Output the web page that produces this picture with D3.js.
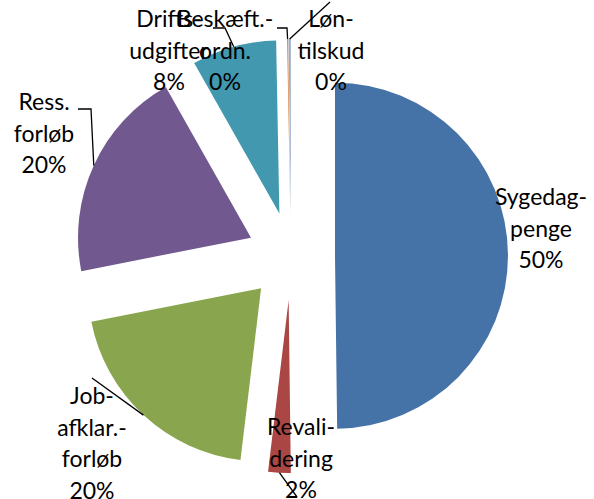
<!DOCTYPE html>
<html>
<head>
<meta charset="utf-8">
<script src="https://cdn.jsdelivr.net/npm/d3@7"></script>
<style>
  html, body { margin: 0; padding: 0; background: #fff; }
  svg { display: block; }
  text { font-family: Lato, "Open Sans", sans-serif; font-size: 23px; fill: #000; }
</style>
</head>
<body>
<div id="chart"></div>
<script>
// data
const categories = ['Sygedagpenge', 'Revalidering', 'Jobafklaringsforløb', 'Ressourceforløb',
  'Driftsudgifter', 'Beskæftigelsesordninger', 'Løntilskud'];
const labelLines = [['Sygedag-', 'penge'], ['Revali-', 'dering'], ['Job-', 'afklar.-', 'forløb'],
  ['Ress.', 'forløb'], ['Drifts-', 'udgifter'], ['Beskæft.-', 'ordn.'], ['Løn-', 'tilskud']];
const values = [49.8, 2.1, 20.0, 19.9, 7.9, 0.1, 0.2];
const colors = ['#4572A7', '#AA4643', '#89A54E', '#71588F', '#4198AF', '#DB843D', '#93A9CF'];

const width = 594, height = 499;
const cx = 291, cy = 256, radius = 173, explode = 44;
const lineH = 31.5;

// label placement (x centre, first baseline) and leader points next to the label
const labelLayout = [
  { x: 541, y: 205, leader: null },
  { x: 301, y: 435, leader: [[297, 497]] },
  { x: 92, y: 404, leader: [[92, 378]] },
  { x: 44, y: 110, leader: [[78, 109], [91, 109]] },
  { x: 169, y: 27, leader: [[213, 28], [225, 28]] },
  { x: 225, y: 27, leader: [[277, 28], [287, 28]] },
  { x: 331, y: 27, leader: [[330, 2]] }
];

const total = d3.sum(values);
const pct = d3.format('.0%');

const svg = d3.select('#chart')
  .append('svg')
  .attr('width', width)
  .attr('height', height);

const pie = d3.pie().sort(null).value(d => d)(values);
const arc = d3.arc().innerRadius(0).outerRadius(radius);

const mid = d => (d.startAngle + d.endAngle) / 2;
const shift = d => [explode * Math.sin(mid(d)), -explode * Math.cos(mid(d))];

// slices
svg.append('g')
  .selectAll('path')
  .data(pie)
  .join('path')
  .attr('transform', d => {
    const [dx, dy] = shift(d);
    return `translate(${cx + dx}, ${cy + dy})`;
  })
  .attr('d', arc)
  .attr('fill', (d, i) => colors[i]);

// leader lines
const line = d3.line();
svg.append('g')
  .selectAll('path')
  .data(pie.filter((d, i) => labelLayout[i].leader))
  .join('path')
  .attr('d', d => {
    const [dx, dy] = shift(d);
    const a = mid(d);
    const tip = [cx + dx + radius * Math.sin(a), cy + dy - radius * Math.cos(a)];
    return line(labelLayout[d.index].leader.concat([tip]));
  })
  .attr('fill', 'none')
  .attr('stroke', '#000')
  .attr('stroke-width', 1.3);

// labels
const labels = svg.append('g')
  .selectAll('text')
  .data(pie)
  .join('text')
  .attr('text-anchor', 'middle')
  .attr('x', d => labelLayout[d.index].x)
  .attr('y', d => labelLayout[d.index].y);

labels.selectAll('tspan')
  .data(d => labelLines[d.index].concat([pct(d.data / total)])
    .map(t => ({ t, x: labelLayout[d.index].x })))
  .join('tspan')
  .attr('x', d => d.x)
  .attr('dy', (d, i) => i === 0 ? 0 : lineH)
  .text(d => d.t);
</script>
</body>
</html>
